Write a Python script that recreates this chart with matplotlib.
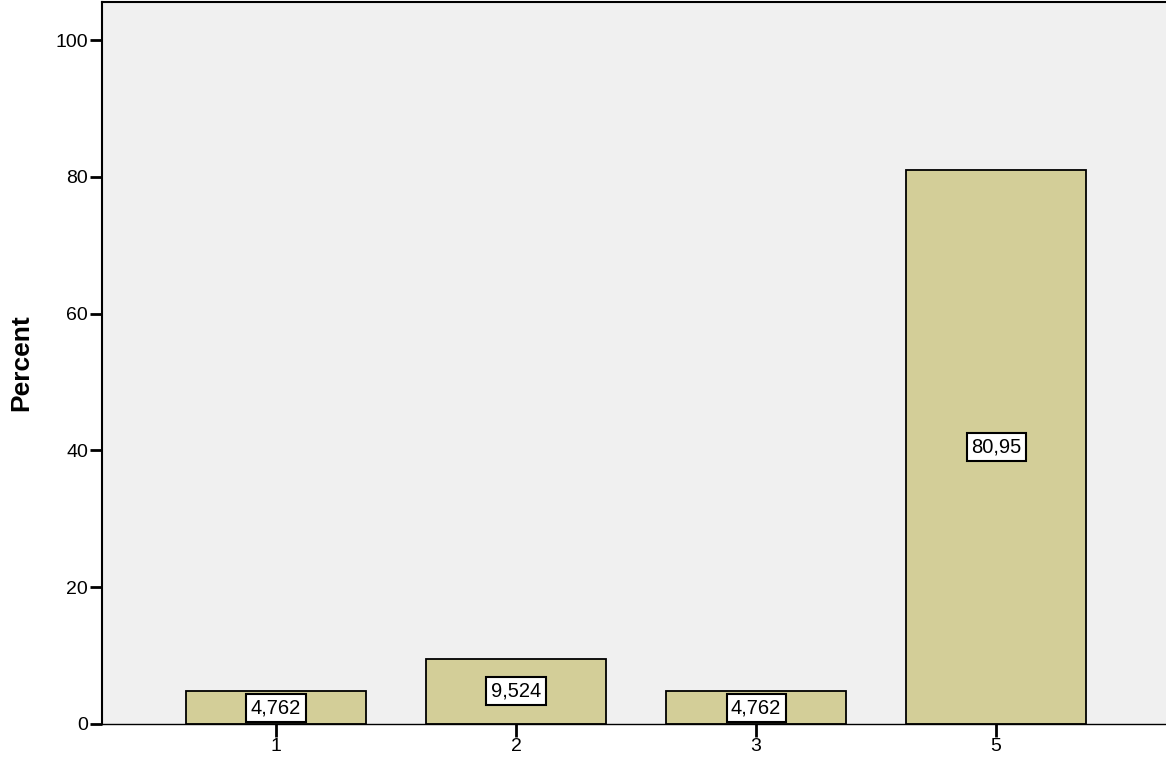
import matplotlib.pyplot as plt

# Dados do gráfico
categorias = ['1', '2', '3', '5']
percentuais = [4.762, 9.524, 4.762, 80.95]
rotulos = ['4,762', '9,524', '4,762', '80,95']

plt.rcParams['font.family'] = ['Liberation Sans', 'DejaVu Sans']

fig = plt.figure(figsize=(11.66, 7.64), dpi=100, facecolor='white')
ax = fig.add_axes([0.0875, 0.0524, 0.9125, 0.945])
ax.set_facecolor('#F0F0F0')

pos = list(range(len(categorias)))
ax.bar(pos, percentuais, width=0.75, color='#D3CE98', edgecolor='black', linewidth=1.3, zorder=2)

# Rótulos no meio das barras
for x, v, r in zip(pos, percentuais, rotulos):
    ax.text(x, v / 2, r, ha='center', va='center', fontsize=14.5, zorder=3,
            bbox=dict(boxstyle='square,pad=0.22', facecolor='white', edgecolor='black', linewidth=1.5))

ax.set_xlim(-0.725, 3.708)
ax.set_ylim(0, 105.56)
ax.set_xticks(pos)
ax.set_xticklabels(categorias, fontsize=14)
ax.set_yticks([0, 20, 40, 60, 80, 100])
ax.tick_params(axis='both', direction='out', length=9, width=2, labelsize=14, pad=1)

# Título do eixo y posicionado na figura
fig.text(0.018, 0.525, 'Percent', rotation=90, ha='center', va='center',
         fontsize=19, fontweight='bold')

for lado in ['left', 'top']:
    ax.spines[lado].set_linewidth(1.5)
ax.spines['right'].set_visible(False)
ax.spines['bottom'].set_linewidth(1.0)

fig.savefig('out.png', dpi=100)
plt.close()
